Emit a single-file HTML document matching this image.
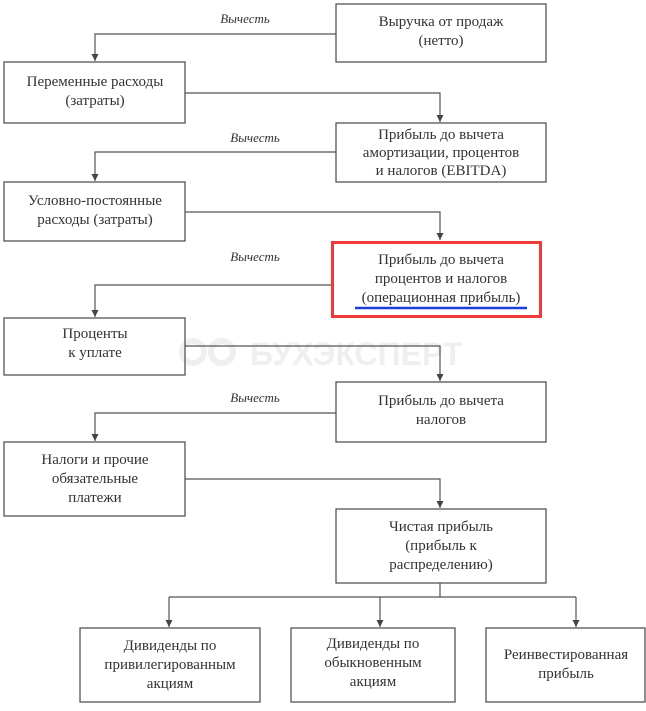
<!DOCTYPE html>
<html><head><meta charset="utf-8"><style>
html,body{margin:0;padding:0;background:#fff;}
svg text{font-family:"Liberation Serif",serif;fill:#333;font-size:15px;}
</style></head><body>
<svg width="646" height="706" viewBox="0 0 646 706" xmlns="http://www.w3.org/2000/svg">
<defs><marker id="a" markerWidth="8" markerHeight="8" refX="7" refY="4" orient="auto" markerUnits="userSpaceOnUse"><path d="M0,0.5 L7,4 L0,7.5 Z" fill="#444"/></marker></defs>
<g>
<text x="250" y="365" style="font-family:'Liberation Sans',sans-serif;font-weight:bold;font-size:32px;fill:#efefef">БУХЭКСПЕРТ</text>
<circle cx="193" cy="352" r="11" fill="none" stroke="#efefef" stroke-width="6"/>
<circle cx="222" cy="352" r="11" fill="none" stroke="#efefef" stroke-width="6"/>
</g>
<g fill="none" stroke="#555" stroke-width="1.3">
<rect x="336" y="4" width="210" height="58"/>
<rect x="4" y="62" width="181" height="61"/>
<rect x="336" y="123" width="210" height="59"/>
<rect x="4" y="182" width="181" height="59"/>
<rect x="4" y="318" width="181" height="57"/>
<rect x="336" y="382" width="210" height="60"/>
<rect x="4" y="442" width="181" height="74"/>
<rect x="336" y="509" width="210" height="74"/>
<rect x="80" y="628" width="180" height="74"/>
<rect x="291" y="628" width="164" height="74"/>
<rect x="486" y="628" width="159" height="74"/>
</g>
<rect x="332.5" y="242.5" width="208" height="74" fill="none" stroke="#f03a3a" stroke-width="3"/>
<g fill="none" stroke="#555" stroke-width="1.2">
<path d="M336,34 H95 V61" marker-end="url(#a)"/>
<path d="M185,93 H440 V122" marker-end="url(#a)"/>
<path d="M336,152 H95 V181" marker-end="url(#a)"/>
<path d="M185,212 H440 V240" marker-end="url(#a)"/>
<path d="M331,285 H95 V317" marker-end="url(#a)"/>
<path d="M185,346 H440 V381" marker-end="url(#a)"/>
<path d="M336,413 H95 V441" marker-end="url(#a)"/>
<path d="M185,479 H440 V508" marker-end="url(#a)"/>
<path d="M440,583 V597"/>
<path d="M169,597 H576"/>
<path d="M169,597 V627" marker-end="url(#a)"/>
<path d="M380,597 V627" marker-end="url(#a)"/>
<path d="M576,597 V627" marker-end="url(#a)"/>
</g>
<g text-anchor="middle">
<text x="245" y="23" style="font-size:13px;font-style:italic">Вычесть</text>
<text x="255" y="142" style="font-size:13px;font-style:italic">Вычесть</text>
<text x="255" y="261" style="font-size:13px;font-style:italic">Вычесть</text>
<text x="255" y="402" style="font-size:13px;font-style:italic">Вычесть</text>
</g>
<g text-anchor="middle">
<text x="441" y="26">Выручка от продаж</text>
<text x="441" y="45">(нетто)</text>
<text x="95" y="86">Переменные расходы</text>
<text x="95" y="105">(затраты)</text>
<text x="441" y="139">Прибыль до вычета</text>
<text x="441" y="157">амортизации, процентов</text>
<text x="441" y="175">и налогов (EBITDA)</text>
<text x="95" y="205">Условно-постоянные</text>
<text x="95" y="224">расходы (затраты)</text>
<text x="441" y="264">Прибыль до вычета</text>
<text x="441" y="283">процентов и налогов</text>
<text x="441" y="302">(операционная прибыль)</text>
<text x="95" y="338">Проценты</text>
<text x="95" y="357">к уплате</text>
<text x="441" y="405">Прибыль до вычета</text>
<text x="441" y="424">налогов</text>
<text x="95" y="464">Налоги и прочие</text>
<text x="95" y="483">обязательные</text>
<text x="95" y="502">платежи</text>
<text x="441" y="531">Чистая прибыль</text>
<text x="441" y="550">(прибыль к</text>
<text x="441" y="569">распределению)</text>
<text x="170" y="650">Дивиденды по</text>
<text x="170" y="669">привилегированным</text>
<text x="170" y="688">акциям</text>
<text x="373" y="648">Дивиденды по</text>
<text x="373" y="667">обыкновенным</text>
<text x="373" y="686">акциям</text>
<text x="566" y="659">Реинвестированная</text>
<text x="566" y="678">прибыль</text>
</g>
<path d="M355,308 H527" stroke="#1a3fe0" stroke-width="2.5"/>
</svg>
</body></html>
